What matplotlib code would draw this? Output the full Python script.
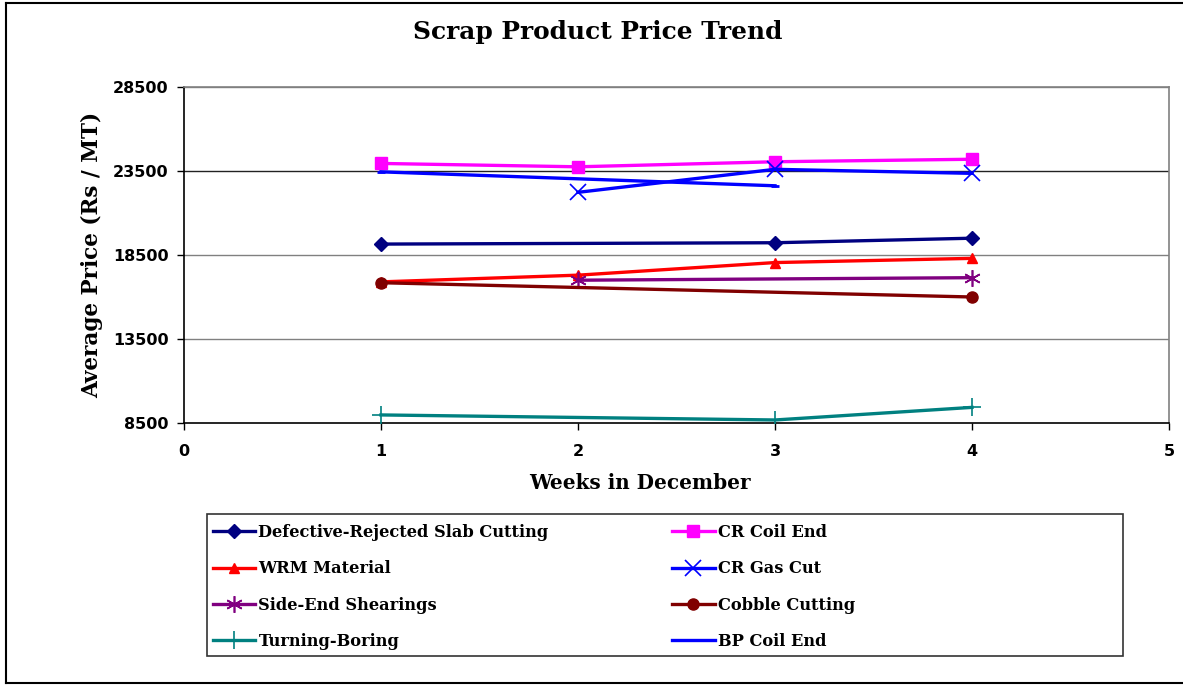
import numpy as np
import matplotlib
matplotlib.use("Agg")
import matplotlib.pyplot as plt
from matplotlib.patches import Rectangle
from matplotlib.lines import Line2D

# weeks in December and average prices (Rs / MT)
series_names = ["Defective-Rejected Slab Cutting", "CR Coil End", "WRM Material",
                "CR Gas Cut", "Side-End Shearings", "Cobble Cutting",
                "Turning-Boring", "BP Coil End"]

defective_weeks = [1, 3, 4]
defective_price = [19150, 19230, 19500]
cr_coil_weeks = [1, 2, 3, 4]
cr_coil_price = [23950, 23750, 24050, 24200]
wrm_weeks = [1, 2, 3, 4]
wrm_price = [16900, 17300, 18050, 18300]
gas_cut_weeks = [2, 3, 4]
gas_cut_price = [22230, 23600, 23360]
side_end_weeks = [2, 4]
side_end_price = [17000, 17150]
cobble_weeks = [1, 4]
cobble_price = [16850, 16000]
turning_weeks = [1, 3, 4]
turning_price = [8980, 8680, 9430]
bp_coil_weeks = [1, 3]
bp_coil_price = [23450, 22620]

y_ticks = [8500, 13500, 18500, 23500, 28500]
x_ticks = [0, 1, 2, 3, 4, 5]

serif = "DejaVu Serif"

fig = plt.figure(figsize=(11.83, 6.90), dpi=100)
ax = fig.add_axes([184 / 1183, 1 - 423 / 690, 985 / 1183, 336 / 690])

styles = [
    dict(color="#000080", marker="D", markersize=7),
    dict(color="#FF00FF", marker="s", markersize=8),
    dict(color="#FF0000", marker="^", markersize=7),
    dict(color="#0000FF", marker="x", markersize=11, markeredgewidth=1.2),
    dict(color="#800080", marker=(6, 2, 0), markersize=12, markeredgewidth=1.2),
    dict(color="#800000", marker="o", markersize=8),
    dict(color="#008080", marker="+", markersize=13, markeredgewidth=1.2),
    dict(color="#0000FF", marker="_", markersize=6, markeredgewidth=2),
]
data = [(defective_weeks, defective_price), (cr_coil_weeks, cr_coil_price),
        (wrm_weeks, wrm_price), (gas_cut_weeks, gas_cut_price),
        (side_end_weeks, side_end_price), (cobble_weeks, cobble_price),
        (turning_weeks, turning_price), (bp_coil_weeks, bp_coil_price)]

handles = []
for name, (wx, wy), st in zip(series_names, data, styles):
    h, = ax.plot(wx, wy, linewidth=2.4, label=name, zorder=3, **st)
    handles.append(h)

ax.set_xlim(0, 5)
ax.set_ylim(8500, 28500)
ax.set_xticks(x_ticks)
ax.set_yticks(y_ticks)
ax.tick_params(axis="both", direction="out", length=5, width=1,
               labelsize=11.5, colors="black")
ax.tick_params(axis="x", pad=10)
ax.tick_params(axis="y", pad=6)
for lab in ax.get_xticklabels() + ax.get_yticklabels():
    lab.set_fontweight("bold")

for yv in y_ticks[1:]:
    ax.axhline(yv, color="#222222" if yv == 23500 else "#808080", lw=1, zorder=1)

for s in ["top", "right"]:
    ax.spines[s].set_color("#808080")
    ax.spines[s].set_linewidth(1.2)
for s in ["left", "bottom"]:
    ax.spines[s].set_color("black")
    ax.spines[s].set_linewidth(1.2)

ax.set_ylabel("Average Price (Rs / MT)", fontsize=15.5, fontweight="bold", family=serif)
ax.yaxis.set_label_coords(-0.082, 0.5)
ax.set_xlabel("Weeks in December", fontsize=14.4, fontweight="bold", family=serif)
ax.xaxis.set_label_coords(0.463, -0.15)

fig.text(598 / 1183, 1 - 32 / 690, "Scrap Product Price Trend", ha="center",
         va="center", fontsize=17.9, fontweight="bold", family=serif)

# legend (row-major order as in the original), frame drawn separately
order = [0, 2, 4, 6, 1, 3, 5, 7]
leg = fig.legend([handles[i] for i in order], [series_names[i] for i in order],
                 ncol=2, loc="upper left",
                 bbox_to_anchor=(213 / 1183, 1 - 524 / 690),
                 prop=dict(family=serif, weight="bold", size=11.7),
                 frameon=False, handlelength=2.6, handletextpad=0.2,
                 labelspacing=1.19, columnspacing=7.6,
                 borderpad=0, borderaxespad=0)

fig.add_artist(Rectangle((207 / 1183, 1 - 656 / 690), 916 / 1183, 142 / 690,
                         transform=fig.transFigure, fill=False,
                         edgecolor="#333333", linewidth=1.2))

# outer chart border (right edge falls outside the picture)
bx0, by0, by1 = 6 / 1183, 1 - 683 / 690, 1 - 3 / 690
for xs, ys in [([bx0, bx0], [by0, by1]), ([bx0, 1], [by1, by1]), ([bx0, 1], [by0, by0])]:
    fig.add_artist(Line2D(xs, ys, transform=fig.transFigure, color="black", linewidth=1.5))

fig.savefig("out.png", dpi=100)
